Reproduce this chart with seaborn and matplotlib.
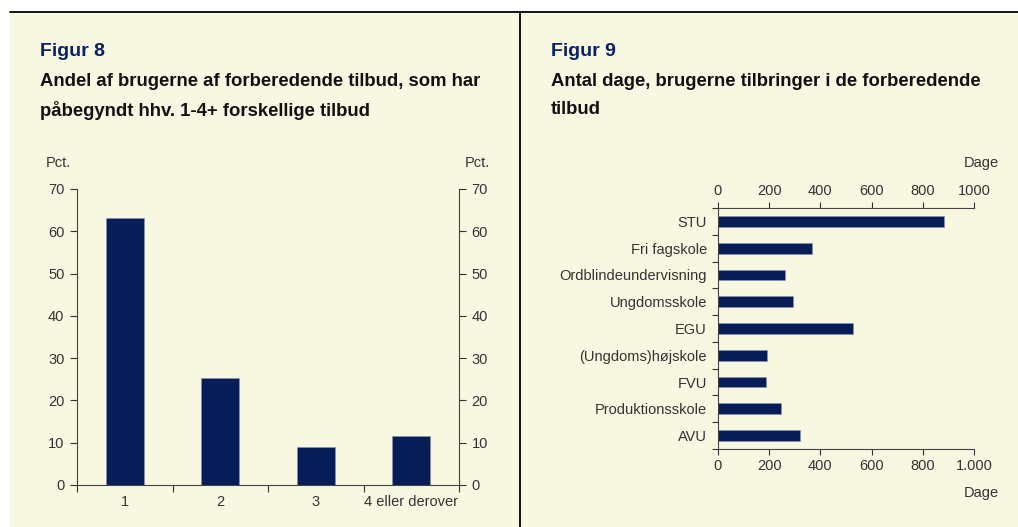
import matplotlib
matplotlib.use('Agg')
import matplotlib.pyplot as plt
from matplotlib.patches import Rectangle
from matplotlib.lines import Line2D
from matplotlib.ticker import FixedLocator, NullFormatter
import seaborn as sns

# data
antal_kat = ['1', '2', '3', '4 eller derover']
andel_pct = [63.1, 25.2, 9.1, 11.5]

tilbud = ['STU', 'Fri fagskole', 'Ordblindeundervisning', 'Ungdomsskole', 'EGU',
          '(Ungdoms)højskole', 'FVU', 'Produktionsskole', 'AVU']
dage = [883, 366, 263, 293, 529, 191, 189, 247, 321]

navy = '#071D58'
title_col = '#0B2163'
bg = '#F8F7E1'
txt = '#333333'
fs = 10.5

sns.set_style('white')
plt.rcParams['font.family'] = ['Liberation Sans', 'DejaVu Sans']
plt.rcParams['text.color'] = txt
plt.rcParams['xtick.color'] = txt
plt.rcParams['ytick.color'] = txt
plt.rcParams['axes.edgecolor'] = '#444444'

W, H = 1018, 527
fig = plt.figure(figsize=(W / 100, H / 100), dpi=100)
fig.patch.set_facecolor('white')
fig.add_artist(Rectangle((10 / W, 0), 1, 1 - 12 / H, transform=fig.transFigure,
                         facecolor=bg, edgecolor='none', zorder=0))
fig.add_artist(Line2D([10 / W, 1], [1 - 12 / H, 1 - 12 / H], transform=fig.transFigure,
                      color='black', lw=1.3))
fig.add_artist(Line2D([520 / W, 520 / W], [0, 1 - 12 / H], transform=fig.transFigure,
                      color='black', lw=1.3))


def px(x0, y0, x1, y1):
    return [x0 / W, 1 - y1 / H, (x1 - x0) / W, (y1 - y0) / H]


# titles
fig.text(40 / W, 1 - 52 / H, 'Figur 8', color=title_col, fontsize=14, fontweight='bold', va='center')
fig.text(40 / W, 1 - 82 / H, 'Andel af brugerne af forberedende tilbud, som har', color='#111111',
         fontsize=13.3, fontweight='bold', va='center')
fig.text(40 / W, 1 - 110 / H, 'påbegyndt hhv. 1-4+ forskellige tilbud', color='#111111',
         fontsize=13.3, fontweight='bold', va='center')
fig.text(551 / W, 1 - 52 / H, 'Figur 9', color=title_col, fontsize=14, fontweight='bold', va='center')
fig.text(551 / W, 1 - 82 / H, 'Antal dage, brugerne tilbringer i de forberedende', color='#111111',
         fontsize=13.3, fontweight='bold', va='center')
fig.text(551 / W, 1 - 110 / H, 'tilbud', color='#111111',
         fontsize=13.3, fontweight='bold', va='center')

# Figur 8
ax1 = fig.add_axes(px(77, 189, 459, 485))
ax1.set_facecolor('none')
sns.barplot(x=antal_kat, y=andel_pct, color=navy, width=0.4, saturation=1, ax=ax1,
            edgecolor='#8C95B5', linewidth=0.4)
ax1.set_xlim(-0.5, 3.5)
ax1.set_ylim(0, 70)
ax1.set_yticks(range(0, 71, 10))
ax1.set_xticks(range(4))
ax1.set_xticklabels(antal_kat)
ax1.xaxis.set_minor_locator(FixedLocator([-0.5, 0.5, 1.5, 2.5, 3.5]))
ax1.xaxis.set_minor_formatter(NullFormatter())
ax1.tick_params(axis='x', which='major', length=0, pad=7, labelsize=fs)
ax1.tick_params(axis='x', which='minor', length=5, width=0.8, direction='out', bottom=True)
ax1.tick_params(axis='y', length=5, width=0.8, direction='out', left=True, labelsize=fs, pad=4)
ax1.spines['top'].set_visible(False)
ax1.spines['right'].set_visible(False)
for s in ['left', 'bottom']:
    ax1.spines[s].set_linewidth(0.8)
ax1.set_xlabel('')
ax1.set_ylabel('')
ax1r = ax1.twinx()
ax1r.set_ylim(0, 70)
ax1r.set_yticks(range(0, 71, 10))
ax1r.tick_params(axis='y', length=5, width=0.8, direction='out', right=True, labelsize=fs, pad=4)
ax1r.spines['top'].set_visible(False)
ax1r.spines['left'].set_visible(False)
ax1r.spines['bottom'].set_visible(False)
ax1r.spines['right'].set_linewidth(0.8)
fig.text(46 / W, 1 - 163 / H, 'Pct.', fontsize=fs, va='center', ha='left')
fig.text(490 / W, 1 - 163 / H, 'Pct.', fontsize=fs, va='center', ha='right')

# Figur 9
ax2 = fig.add_axes(px(718, 208, 974, 449))
ax2.set_facecolor('none')
sns.barplot(x=dage, y=tilbud, orient='h', color=navy, width=0.4, saturation=1, ax=ax2,
            edgecolor='#8C95B5', linewidth=0.4)
ax2.set_xlim(0, 1000)
ax2.set_ylim(8.5, -0.5)
ax2.set_xticks(range(0, 1001, 200))
ax2.set_xticklabels(['0', '200', '400', '600', '800', '1.000'])
ax2.yaxis.set_minor_locator(FixedLocator([i - 0.5 for i in range(10)]))
ax2.yaxis.set_minor_formatter(NullFormatter())
ax2.tick_params(axis='y', which='major', length=0, pad=8, labelsize=fs)
ax2.tick_params(axis='y', which='minor', length=4, width=0.8, direction='out', left=True)
ax2.tick_params(axis='x', length=4, width=0.8, direction='out', bottom=True, labelsize=fs, pad=3)
ax2.spines['right'].set_visible(False)
ax2.spines['top'].set_visible(False)
for s in ['left', 'bottom']:
    ax2.spines[s].set_linewidth(0.8)
ax2.set_xlabel('')
ax2.set_ylabel('')
ax2t = ax2.twiny()
ax2t.set_xlim(0, 1000)
ax2t.set_xticks(range(0, 1001, 200))
ax2t.tick_params(axis='x', length=4, width=0.8, direction='out', top=True, labelsize=fs, pad=3)
ax2t.spines['right'].set_visible(False)
ax2t.spines['left'].set_visible(False)
ax2t.spines['bottom'].set_visible(False)
ax2t.spines['top'].set_linewidth(0.8)
fig.text(999 / W, 1 - 163 / H, 'Dage', fontsize=fs, va='center', ha='right')
fig.text(999 / W, 1 - 493 / H, 'Dage', fontsize=fs, va='center', ha='right')

fig.savefig('out.png', dpi=100)
